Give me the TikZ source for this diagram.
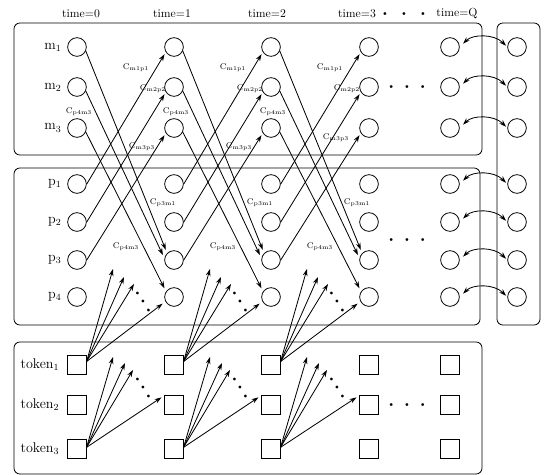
\documentclass[tikz,border=0pt]{standalone}
\usetikzlibrary{arrows.meta,positioning}
\newcommand{\rowdots}[1]{$\bullet$\hspace{#1}$\bullet$\hspace{#1}$\bullet$}
\begin{document}
\begin{tikzpicture}[x=0.03cm,y=-0.03cm,line width=0.7pt,
    >={Stealth[length=6pt,width=4pt]},
    st/.style={draw,circle,minimum size=0.56cm,inner sep=0pt},
    tok/.style={draw,minimum size=0.55cm,inner sep=0pt},
    grp/.style={draw,rounded corners=5pt},
    rowlab/.style={font=\large,inner sep=1pt},
    cost/.style={font=\scriptsize,inner sep=0.5pt},
    dts/.style={font=\tiny,inner sep=0pt}]
\useasboundingbox (0,0) rectangle (546,475);

% frames
\draw[grp] (14,23) rectangle (482,155);
\draw[grp] (14,168) rectangle (480,325);
\draw[grp] (497,23) rectangle (540,325);
\draw[grp] (14,342) rectangle (482,474);

% time headers
\node (h0) at (81,14) {time=0};
\node (h1) at (172,14) {time=1};
\node (h2) at (267,14) {time=2};
\node (h3) at (357,14) {time=3};
\node[dts] (hd) at (404,14) {\rowdots{12.5pt}};
\node (hQ) at (457,14) {time=Q};

% circles and token squares for each time step
\foreach \ts/\x in {0/77,1/174,2/271,3/369,Q/450}{
  \foreach \i/\y in {1/47,2/87,3/128} \node[st] (m\i-\ts) at (\x,\y) {};
  \foreach \j/\y in {1/184,2/222,3/260,4/297} \node[st] (p\j-\ts) at (\x,\y) {};
  \foreach \k/\y in {1/365,2/405,3/449} \node[tok] (k\k-\ts) at (\x,\y) {};
}
\foreach \i/\y in {1/47,2/87,3/128} \node[st] (mr\i) at (517,\y) {};
\foreach \j/\y in {1/184,2/222,3/260,4/297} \node[st] (pr\j) at (517,\y) {};

% row labels
\foreach \i in {1,2,3} \node[rowlab,left=0.13cm of m\i-0] (lm\i) {m\textsubscript{\i}};
\foreach \j in {1,...,4} \node[rowlab,left=0.13cm of p\j-0] (lp\j) {p\textsubscript{\j}};
\foreach \k in {1,2,3} \node[rowlab,left=0.2cm of k\k-0] (lk\k) {token\textsubscript{\k}};

% gaps before time=Q
\node[dts] (md) at (407,87) {\rowdots{9.8pt}};
\node[dts] (pd) at (407,240) {\rowdots{9.8pt}};
\node[dts] (kd) at (407,405) {\rowdots{9.8pt}};

% transfers between consecutive time steps
\foreach \ts/\tn/\x/\yc in {0/1/77/147,1/2/174/147,2/3/271/138}{
  \foreach \i in {1,2,3} \draw[->,shorten >=2pt] (p\i-\ts.east) -- (m\i-\tn.212);
  \draw[->,shorten >=3pt] (m1-\ts.335) -- (p3-\tn.135);
  \draw[->,shorten >=3pt] (m2-\ts.335) -- (p3-\tn.170);
  \draw[->,shorten >=3pt] (m3-\ts.335) -- (p4-\tn.145);
  \node[cost] (cmp1-\ts) at (\x+59,68) {C\textsubscript{m1p1}};
  \node[cost] (cmp2-\ts) at (\x+76,89) {C\textsubscript{m2p2}};
  \node[cost] (cpm4-\ts) at (\x+2,112) {C\textsubscript{p4m3}};
  \node[cost] (cmp3-\ts) at (\x+65,\yc) {C\textsubscript{m3p3}};
  \node[cost] (cpm3-\ts) at (\x+86,203) {C\textsubscript{p3m1}};
  \node[cost] (cpm5-\ts) at (\x+49,247) {C\textsubscript{p4m3}};
  % token fans
  \coordinate (ua\ts) at (\x+36,269);
  \coordinate (ub\ts) at (\x+47,277);
  \coordinate (uc\ts) at (\x+57,284);
  \foreach \q in {ua,ub,uc} \draw[->] (k1-\ts.20) -- (\q\ts);
  \draw[->,shorten >=3pt] (k1-\ts.20) -- (p4-\tn.208);
  \node[dts,rotate=-57] (ud\ts) at (\x+66,302) {\rowdots{4.8pt}};
  \coordinate (la\ts) at (\x+36,357);
  \coordinate (lb\ts) at (\x+48,363);
  \coordinate (lc\ts) at (\x+56,370);
  \foreach \q in {la,lb,lc} \draw[->] (k3-\ts.10) -- (\q\ts);
  \draw[->,shorten >=3pt] (k3-\ts.10) -- (k2-\tn.north west);
  \node[dts,rotate=-57] (ld\ts) at (\x+66,388) {\rowdots{4.8pt}};
}

% exchange with the mirror column
\foreach \i in {1,2,3}
  \draw[<->,shorten <=4pt,shorten >=1.5pt] (m\i-Q.east) to[bend left=45] (mr\i.west);
\foreach \j in {1,...,4}
  \draw[<->,shorten <=4pt,shorten >=1.5pt] (p\j-Q.east) to[bend left=45] (pr\j.west);
\end{tikzpicture}
\end{document}
